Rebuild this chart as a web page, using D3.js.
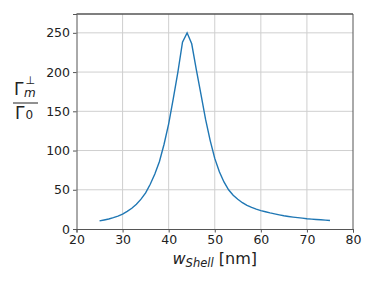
<!DOCTYPE html>
<html>
<head>
<meta charset="utf-8">
<script src="https://cdn.jsdelivr.net/npm/d3@7"></script>
<style>
  body { margin: 0; background: #fff; }
  svg { display: block; font-family: "DejaVu Sans", sans-serif; }
</style>
</head>
<body>
<svg id="chart" width="374" height="281"></svg>
<script>
// shell width [nm]
const wShell = d3.range(25, 76);
// Gamma_m / Gamma_0 values
const gamma = [
  10.3, 11.5, 12.8, 14.5, 16.5, 19, 22.5, 26.5, 31.5, 38,
  46, 57, 70, 86, 108, 134, 166, 200, 238, 250,
  236, 203, 172, 140, 113, 90, 73, 60, 50, 43,
  38, 33.5, 30, 27.5, 25.3, 23.5, 22, 20.5, 19.2, 18,
  16.9, 16, 15.2, 14.5, 13.8, 13.1, 12.6, 12.1, 11.7, 11.3, 10.9
];
const xTicks = [20, 30, 40, 50, 60, 70, 80];
const yTicks = [0, 50, 100, 150, 200, 250];

const margin = { left: 76.5, right: 21, top: 14, bottom: 52 };
const W = 374, H = 281;
const svg = d3.select("#chart");

const x = d3.scaleLinear().domain([20, 80]).range([margin.left, W - margin.right]);
const y = d3.scaleLinear().domain([0, 274]).range([H - margin.bottom, margin.top]);

// siatka
svg.append("g")
  .selectAll("line.gx")
  .data(xTicks.slice(1, -1))
  .join("line")
  .attr("x1", d => x(d)).attr("x2", d => x(d))
  .attr("y1", y(0)).attr("y2", y(274))
  .attr("stroke", "#cfcfcf").attr("stroke-width", 1);
svg.append("g")
  .selectAll("line.gy")
  .data(yTicks.slice(1))
  .join("line")
  .attr("x1", x(20)).attr("x2", x(80))
  .attr("y1", d => y(d)).attr("y2", d => y(d))
  .attr("stroke", "#cfcfcf").attr("stroke-width", 1);

// osie
const xAxis = svg.append("g")
  .attr("transform", `translate(0,${y(0)})`)
  .call(d3.axisBottom(x).tickValues(xTicks).tickSize(3.5).tickPadding(3));
const yAxis = svg.append("g")
  .attr("transform", `translate(${x(20)},0)`)
  .call(d3.axisLeft(y).tickValues(yTicks).tickSize(3.5).tickPadding(3));
[xAxis, yAxis].forEach(g => {
  g.select(".domain").attr("stroke", "#555");
  g.selectAll(".tick line").attr("stroke", "#555");
  g.selectAll(".tick text")
    .attr("fill", "#222")
    .style("font-size", "12.5px")
    .style("font-family", "DejaVu Sans");
});

// ramka (góra, prawo)
svg.append("line")
  .attr("x1", x(20)).attr("x2", x(80))
  .attr("y1", y(274)).attr("y2", y(274))
  .attr("stroke", "#555").attr("stroke-width", 1.5);
svg.append("line")
  .attr("x1", x(80)).attr("x2", x(80))
  .attr("y1", y(0)).attr("y2", y(274))
  .attr("stroke", "#555").attr("stroke-width", 1);

// krzywa
const line = d3.line()
  .x((d, i) => x(wShell[i]))
  .y(d => y(d));
svg.append("path")
  .datum(gamma)
  .attr("d", line)
  .attr("fill", "none")
  .attr("stroke", "#1f77b4")
  .attr("stroke-width", 1.4);

// etykieta osi X
const xl = svg.append("text")
  .attr("x", (x(20) + x(80)) / 2)
  .attr("y", 264)
  .attr("text-anchor", "middle")
  .attr("fill", "#222")
  .style("font-size", "16px");
xl.append("tspan").attr("font-style", "italic").text("w");
xl.append("tspan").attr("font-style", "italic").attr("dy", 3).style("font-size", "11.5px").text("Shell");
xl.append("tspan").attr("dy", -3).text(" [nm]");

// etykieta osi Y (ułamek)
const yl = svg.append("g").attr("fill", "#222");
yl.append("text").attr("x", 14).attr("y", 95).style("font-size", "17px").text("Γ");
yl.append("text").attr("x", 24).attr("y", 97).style("font-size", "12px").attr("font-style", "italic").text("m");
yl.append("text").attr("x", 25.5).attr("y", 84).style("font-size", "11px").text("⊥");
yl.append("line")
  .attr("x1", 13).attr("x2", 38).attr("y1", 103).attr("y2", 103)
  .attr("stroke", "#222").attr("stroke-width", 1);
yl.append("text").attr("x", 15).attr("y", 118.5).style("font-size", "17px").text("Γ");
yl.append("text").attr("x", 25.5).attr("y", 119).style("font-size", "12px").text("0");
</script>
</body>
</html>
